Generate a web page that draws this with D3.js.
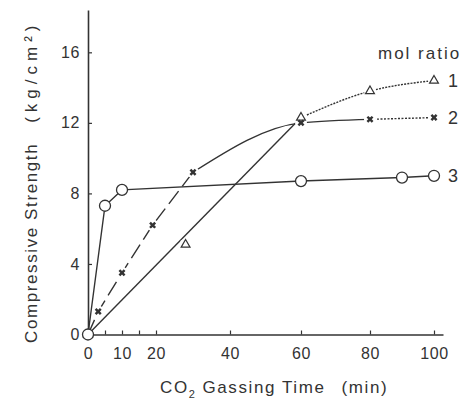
<!DOCTYPE html>
<html><head><meta charset="utf-8">
<script src="https://cdn.jsdelivr.net/npm/d3@7"></script>
<style>
html,body{margin:0;padding:0;background:#fff;}
svg{display:block;}
text{font-family:"Liberation Sans",Arial,sans-serif;}
</style></head>
<body>
<svg id="chart" width="468" height="412"></svg>
<script>
// ---- data ----
const xTickValues = [0, 10, 20, 40, 60, 80, 100];
const xMinorTicks = [5, 15];
const yTickValues = [0, 4, 8, 12, 16];

// mol ratio 1 (triangles)
const s1Time     = [0, 28, 60, 80, 100];
const s1Strength = [0, 5.1, 12.3, 13.8, 14.4];
// mol ratio 2 (crosses)
const s2Time     = [0, 3, 10, 19, 30, 60, 80, 100];
const s2Strength = [0, 1.3, 3.5, 6.2, 9.2, 12.0, 12.2, 12.3];
// mol ratio 3 (open circles)
const s3Time     = [0, 5, 10, 60, 90, 100];
const s3Strength = [0, 7.3, 8.2, 8.7, 8.9, 9.0];

const seriesLabels = ["1", "2", "3"];
const legendTitle = "mol ratio";
const xTitle = ["CO", "2", "Gassing Time", "(min)"];
const yTitle = ["Compressive Strength", "(kg/cm\u00B2)"];

// ---- drawing ----
const svg = d3.select("#chart");
const ink = "#333";

const x = d3.scaleLinear()
  .domain([0, 20, 40, 60, 80, 100, 102.5])
  .range([88, 156, 230, 301, 370, 434, 443]);
const y = d3.scaleLinear().domain([0, 18.4]).range([334.5, 10]);

const zip = (t, v) => t.map((d, i) => [d, v[i]]);
const s1 = zip(s1Time, s1Strength);
const s2 = zip(s2Time, s2Strength);
const s3 = zip(s3Time, s3Strength);

// axes
const xAxis = d3.axisBottom(x).tickValues(xTickValues.concat(xMinorTicks))
  .tickSize(-4).tickSizeOuter(0).tickPadding(13)
  .tickFormat(d => xTickValues.includes(d) ? d : "");
const gx = svg.append("g").attr("transform", `translate(0,${y(0)})`).call(xAxis);
const yAxis = d3.axisLeft(y).tickValues(yTickValues)
  .tickSize(-4).tickSizeOuter(0).tickPadding(8);
const gy = svg.append("g").attr("transform", `translate(${x(0)},0)`).call(yAxis);
[gx, gy].forEach(g => {
  g.attr("font-family", null).attr("font-size", null);
  g.select(".domain").attr("stroke", ink).attr("stroke-width", 1.6);
  g.selectAll(".tick line").attr("stroke", ink).attr("stroke-width", 1.2);
  g.selectAll(".tick text").attr("fill", ink)
    .style("font-size", "16px").style("letter-spacing", "0.6px");
});

// lines
const lin = d3.line().x(d => x(d[0])).y(d => y(d[1]));
const mono = d3.line().x(d => x(d[0])).y(d => y(d[1])).curve(d3.curveMonotoneX);
const lines = svg.append("g").attr("fill", "none").attr("stroke", ink).attr("stroke-width", 1.4);

// series 1: straight rise from origin to the 60-min point, then flattening curve
lines.append("path").attr("d", lin([s1[0], s1[2]]));
lines.append("path").attr("d", mono(s1.slice(2))).attr("stroke-dasharray", "2,1.2");
// series 2: dashed straight rise, curved bend, flat tail
lines.append("path").attr("d", lin(s2.slice(0, 5))).attr("stroke-dasharray", "16,6");
lines.append("path").attr("d", mono(s2.slice(4, 7)));
lines.append("path").attr("d", lin(s2.slice(6))).attr("stroke-dasharray", "2,1.5");
// series 3
lines.append("path").attr("d", lin(s3));

// markers with white halo (gaps around markers)
const mk = svg.append("g");
function halo(data, r) {
  mk.selectAll(null).data(data).enter().append("circle")
    .attr("cx", d => x(d[0])).attr("cy", d => y(d[1])).attr("r", r).attr("fill", "#fff");
}
halo(s1.slice(1), 6);
halo(s2.slice(1), 6);

const tri = d3.symbol(d3.symbolTriangle, 34);
mk.selectAll(null).data(s1).enter().append("path")
  .attr("d", tri).attr("transform", d => `translate(${x(d[0])},${y(d[1])})`)
  .attr("fill", "#fff").attr("stroke", ink).attr("stroke-width", 1.2);

const cross = d3.symbol(d3.symbolCross, 30);
mk.selectAll(null).data(s2).enter().append("path")
  .attr("d", cross).attr("transform", d => `translate(${x(d[0])},${y(d[1])}) rotate(45)`)
  .attr("fill", ink);

mk.selectAll(null).data(s3).enter().append("circle")
  .attr("cx", d => x(d[0])).attr("cy", d => y(d[1])).attr("r", 5.5)
  .attr("fill", "#fff").attr("stroke", ink).attr("stroke-width", 1.3);

// series labels
const lastPts = [s1[s1.length - 1], s2[s2.length - 1], s3[s3.length - 1]];
svg.append("g").selectAll("text").data(lastPts).enter().append("text")
  .attr("x", d => x(d[0]) + 14).attr("y", d => y(d[1]))
  .attr("dy", "0.35em").attr("fill", ink).style("font-size", "18px")
  .text((d, i) => seriesLabels[i]);

svg.append("text").attr("x", 378).attr("y", 59).attr("fill", ink)
  .style("font-size", "17px").style("letter-spacing", "2px").text(legendTitle);

// x title
const xt = svg.append("text").attr("x", 160).attr("y", 393).attr("fill", ink)
  .style("font-size", "17px").style("letter-spacing", "1.6px");
xt.append("tspan").text(xTitle[0]);
xt.append("tspan").attr("dy", 5).style("font-size", "11px").text(xTitle[1]);
xt.append("tspan").attr("dy", -5).attr("dx", 6).text(xTitle[2]);
xt.append("tspan").attr("dx", 16).text(xTitle[3]);

// y title
const yt = svg.append("text").attr("transform", "translate(37,343) rotate(-90)")
  .attr("fill", ink).style("font-size", "17px").style("letter-spacing", "1.6px");
yt.append("tspan").text(yTitle[0]);
yt.append("tspan").attr("dx", 20).style("letter-spacing", "5px").text(yTitle[1]);
</script>
</body></html>
